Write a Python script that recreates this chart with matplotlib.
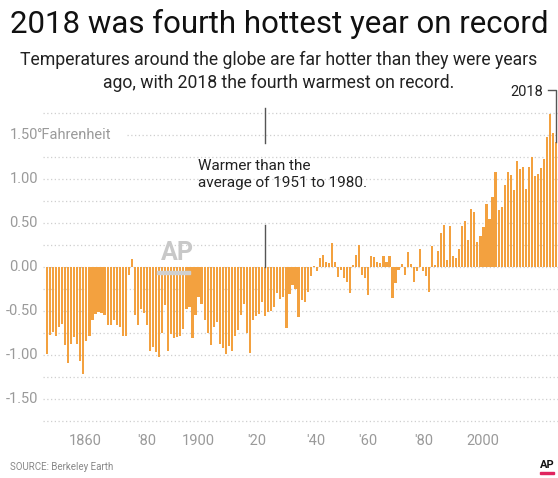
import numpy as np
import matplotlib.pyplot as plt
from matplotlib import transforms
from matplotlib.patches import Rectangle

# Annual temperature difference from the 1951-1980 average, degrees Fahrenheit
years = np.arange(1850, 2019)
anomaly_f = [
    # 1850-1878
    -0.99, -0.77, -0.74, -0.78, -0.68, -0.65, -0.89, -1.09, -0.87, -0.80,
    -0.87, -1.07, -1.22, -0.84, -0.78, -0.60, -0.53, -0.51, -0.52, -0.54,
    -0.66, -0.66, -0.60, -0.66, -0.68, -0.78, -0.78, -0.09, 0.09,
    # 1879-1937
    -0.55, -0.66, -0.48, -0.52, -0.66, -0.95, -0.91, -0.97, -1.02, -0.75,
    -0.43, -0.95, -0.76, -0.81, -0.80, -0.78, -0.70, -0.48, -0.45, -0.81,
    -0.55, -0.34, -0.42, -0.60, -0.75, -0.89, -0.68, -0.62, -0.88, -0.92,
    -0.99, -0.90, -0.95, -0.78, -0.72, -0.55, -0.42, -0.75, -0.98, -0.60,
    -0.56, -0.53, -0.40, -0.56, -0.51, -0.50, -0.45, -0.30, -0.36, -0.34,
    -0.69, -0.31, -0.20, -0.25, -0.57, -0.38, -0.40, -0.28, -0.10,
    # 1938-1960
    0.01, -0.05, 0.10, 0.14, 0.06, 0.04, 0.27, 0.06, -0.11, -0.03,
    -0.13, -0.17, -0.30, 0.02, 0.14, 0.25, -0.09, -0.13, -0.32, 0.12,
    0.11, 0.06, 0.04,
    # 1961-1987
    0.12, 0.06, 0.12, -0.35, -0.18, -0.03, 0.03, -0.09, 0.17, 0.03,
    -0.17, -0.04, 0.20, -0.05, -0.10, -0.28, 0.24, 0.02, 0.18, 0.39,
    0.48, 0.08, 0.47, 0.12, 0.10, 0.20, 0.47,
    # 1988-2018
    0.52, 0.31, 0.66, 0.63, 0.28, 0.35, 0.45, 0.72, 0.55, 0.80,
    1.08, 0.65, 0.68, 0.93, 1.08, 1.05, 0.87, 1.20, 1.11, 1.14,
    0.89, 1.14, 1.25, 1.03, 1.06, 1.12, 1.23, 1.48, 1.74, 1.52,
    1.42,
]

y_ticks = [1.5, 1.0, 0.5, 0.0, -0.5, -1.0, -1.5]
y_labels = ['1.50', '1.00', '0.50', '0.00', '-0.50', '-1.00', '-1.50']
x_tick_pos = [1862.5, 1883, 1900, 1919.3, 1938.8, 1956, 1974.4, 1993.9]
x_labels = ['1860', "'80", '1900', "'20", "'40", "'60", "'80", '2000']

plt.rcParams['font.family'] = ['Roboto', 'DejaVu Sans']

W, H = 558, 478
fig = plt.figure(figsize=(W / 100, H / 100), dpi=100)
fig.patch.set_facecolor('white')
ax = fig.add_axes([43 / W, 1 - 428 / H, 515 / W, 328 / H])
ax.set_xlim(1848.68, 2018.6)
ax.set_ylim(-1.83, 1.898)
for s in ax.spines.values():
    s.set_visible(False)

# dotted grid every quarter degree
for v in np.arange(-1.75, 1.76, 0.25):
    xmin = 0.163 if abs(v - 1.5) < 1e-6 else 0.0
    ax.axhline(v, xmin=xmin, color='#cfcfcf', lw=0.9, ls=(0, (1, 2)), zorder=0)

# faint AP watermark
fig.text(177 / W, 1 - 253 / H, 'AP', fontsize=18, fontweight='bold',
         color='#c8c8c8', ha='center', va='center', zorder=0)
fig.patches.append(Rectangle((157 / W, 1 - 274 / H), 33 / W, 3 / H,
                             transform=fig.transFigure, color='#d0d0d0', zorder=0))

ax.bar(years, anomaly_f, width=0.72, color='#F3A13F', linewidth=0, zorder=2)

# y labels on the left edge
tr = transforms.blended_transform_factory(fig.transFigure, ax.transData)
for v, lab in zip(y_ticks, y_labels):
    ax.text(38 / W, v, lab, transform=tr, ha='right', va='center',
            fontsize=10.5, color='#9a9a9a')
ax.text(36.5 / W, 1.5, '°Fahrenheit', transform=tr, ha='left', va='center',
        fontsize=10.5, color='#9a9a9a')
ax.set_yticks([])

ax.set_xticks(x_tick_pos, x_labels)
ax.tick_params(axis='x', length=0, labelsize=10.5, labelcolor='#9a9a9a', pad=4)

# annotation about the baseline
ax.text(1899.8, 1.05, 'Warmer than the\naverage of 1951 to 1980.', ha='left',
        va='center', fontsize=11, color='#222222', linespacing=1.25)
ax.plot([1921.9, 1921.9], [1.807, 1.409], color='#555555', lw=1)
ax.plot([1921.9, 1921.9], [0.477, 0.0], color='#555555', lw=1)

# 2018 call-out
ax.text(2008.4, 1.99, '2018', ha='center', va='center', fontsize=10.5,
        color='#222222', clip_on=False)
ax.plot([2015.2, 2018.0, 2018.0], [2.01, 2.01, 1.42], color='#555555',
        lw=1, clip_on=False)

fig.text(0.5, 1 - 24 / H, '2018 was fourth hottest year on record',
         ha='center', va='center', fontsize=22.5, color='#111111')
fig.text(0.5, 1 - 60 / H,
         'Temperatures around the globe are far hotter than they were years',
         ha='center', va='center', fontsize=12.7, color='#222222')
fig.text(0.5, 1 - 83 / H, 'ago, with 2018 the fourth warmest on record.',
         ha='center', va='center', fontsize=12.7, color='#222222')

fig.text(10 / W, 1 - 467 / H, 'SOURCE: Berkeley Earth', ha='left',
         va='center', fontsize=7, color='#888888')
fig.text(547 / W, 1 - 465 / H, 'AP', ha='center', va='center', fontsize=8,
         fontweight='bold', color='#111111')
fig.patches.append(Rectangle((540 / W, 1 - 474 / H), 14 / W, 2 / H,
                             transform=fig.transFigure, color='#e0245e'))

fig.savefig('out.png', dpi=100)
